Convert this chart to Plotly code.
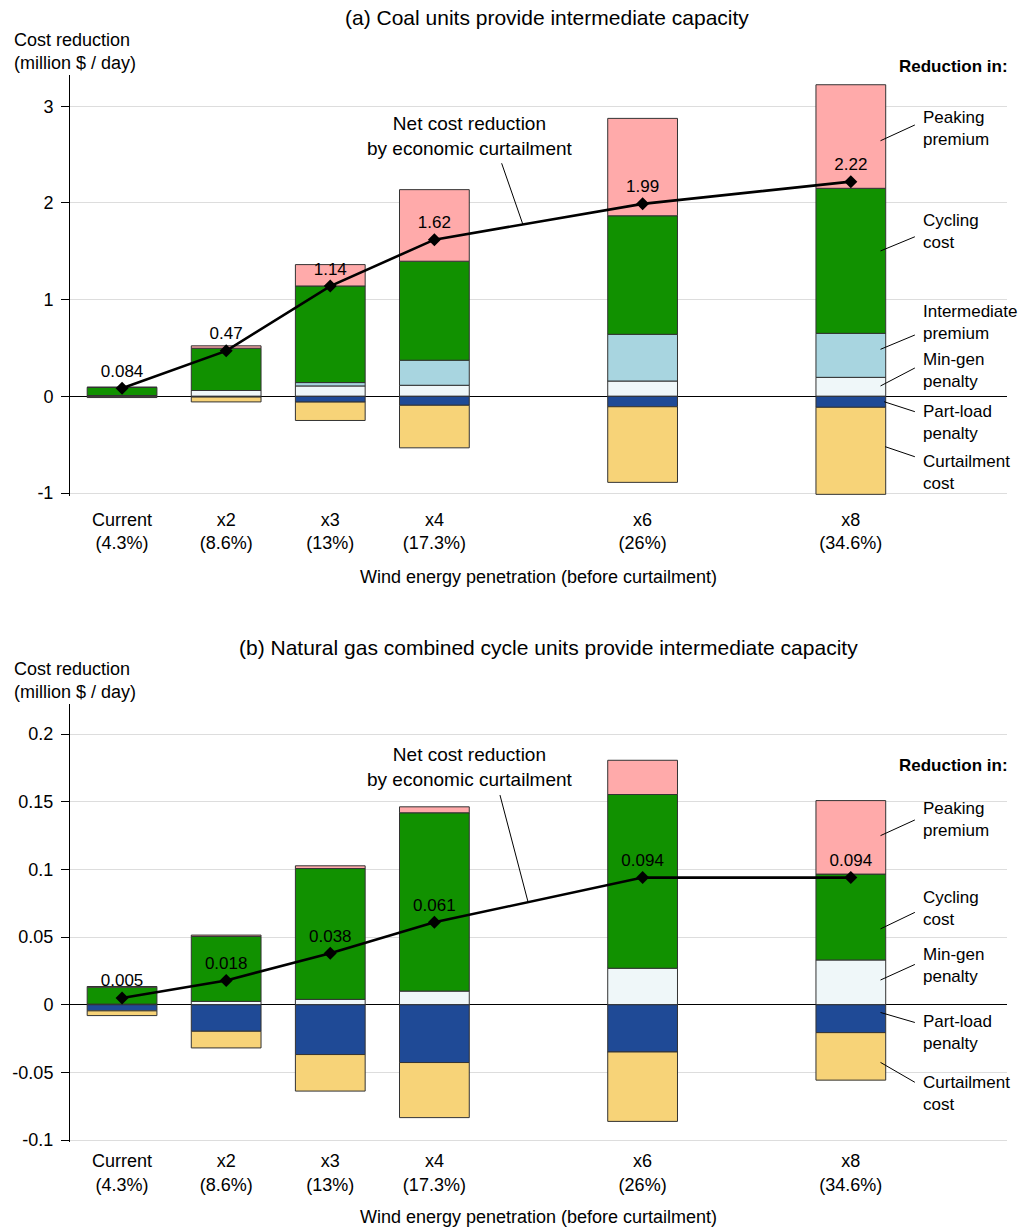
import numpy as np
import plotly.graph_objects as go

# ---------------- data ----------------
multiplier = [1, 2, 3, 4, 6, 8]
tick_labels = ["Current<br>(4.3%)", "x2<br>(8.6%)", "x3<br>(13%)", "x4<br>(17.3%)", "x6<br>(26%)", "x8<br>(34.6%)"]

# (a) coal units provide intermediate capacity  (million $ / day)
peaking_a = [0.0, 0.025, 0.221, 0.74, 1.007, 1.071]
cycling_a = [0.085, 0.437, 0.999, 1.024, 1.226, 1.50]
intermediate_a = [0.0, 0.0, 0.035, 0.259, 0.483, 0.455]
mingen_a = [0.008, 0.06, 0.107, 0.114, 0.158, 0.196]
partload_a = [-0.005, -0.008, -0.06, -0.093, -0.108, -0.114]
curtail_a = [-0.008, -0.05, -0.19, -0.44, -0.782, -0.90]
net_a = [0.084, 0.47, 1.14, 1.62, 1.99, 2.22]

# (b) natural gas combined cycle units provide intermediate capacity
peaking_b = [0.0005, 0.001, 0.002, 0.0044, 0.0253, 0.0543]
cycling_b = [0.0125, 0.048, 0.0967, 0.1318, 0.1284, 0.0635]
mingen_b = [0.0005, 0.0025, 0.004, 0.0101, 0.027, 0.0331]
partload_b = [-0.0045, -0.0196, -0.0368, -0.0427, -0.0349, -0.0206]
curtail_b = [-0.0035, -0.0123, -0.027, -0.0407, -0.0513, -0.0351]
net_b = [0.005, 0.018, 0.038, 0.061, 0.094, 0.094]

yticks_a = [-1, 0, 1, 2, 3]
yticks_b = [-0.1, -0.05, 0, 0.05, 0.1, 0.15, 0.2]

# ---------------- styles ----------------
FONT = "Liberation Sans, Arial, Helvetica, sans-serif"
C_PEAK = "#FFAAAA"
C_CYC = "#119100"
C_INT = "#A8D5E0"
C_MIN = "#EFF7F9"
C_PART = "#1F4A96"
C_CURT = "#F7D378"
BAR_W = 0.67

fig = go.Figure()


def add_bars(series, xa, ya):
    for name, vals, col in series:
        fig.add_trace(go.Bar(
            x=multiplier, y=vals, name=name, width=BAR_W,
            marker=dict(color=col, line=dict(color="#333333", width=1)),
            xaxis=xa, yaxis=ya, hoverinfo="name+y"))


# order: positives stack min-gen -> intermediate -> cycling -> peaking ; negatives part-load -> curtailment
add_bars([("Min-gen penalty", mingen_a, C_MIN),
          ("Part-load penalty", partload_a, C_PART),
          ("Intermediate premium", intermediate_a, C_INT),
          ("Cycling cost", cycling_a, C_CYC),
          ("Curtailment cost", curtail_a, C_CURT),
          ("Peaking premium", peaking_a, C_PEAK)], "x", "y")
add_bars([("Min-gen penalty", mingen_b, C_MIN),
          ("Part-load penalty", partload_b, C_PART),
          ("Cycling cost", cycling_b, C_CYC),
          ("Curtailment cost", curtail_b, C_CURT),
          ("Peaking premium", peaking_b, C_PEAK)], "x2", "y2")

for net, xa, ya in [(net_a, "x", "y"), (net_b, "x2", "y2")]:
    fig.add_trace(go.Scatter(
        x=multiplier, y=net, mode="lines+markers+text",
        text=[str(v) for v in net], textposition="top center",
        textfont=dict(size=17, color="black", family=FONT),
        line=dict(color="black", width=2.6),
        marker=dict(symbol="diamond", size=10, color="black"),
        xaxis=xa, yaxis=ya, name="Net cost reduction", cliponaxis=False))

H = 1231.0
dom_a = [1 - 495.9 / H, 1 - 75.26 / H]
dom_b = [1 - 1142.1 / H, 1 - 704.4 / H]


def xaxis_cfg(label_standoff, title_standoff):
    return dict(range=[0.5, 9.5], tickvals=multiplier, ticktext=tick_labels,
                showgrid=False, zeroline=False, showline=False, ticks="", automargin=False,
                tickfont=dict(size=18, color="black", family=FONT),
                ticklabelstandoff=label_standoff,
                title=dict(text="Wind energy penetration (before curtailment)",
                           font=dict(size=18, color="black", family=FONT), standoff=title_standoff))


ycommon = dict(showgrid=True, gridcolor="#DDDDDD", gridwidth=1, automargin=False,
               zeroline=True, zerolinecolor="black", zerolinewidth=1,
               showline=True, linecolor="black", linewidth=1,
               ticks="outside", ticklen=8, tickcolor="black",
               tickfont=dict(size=18, color="black", family=FONT), ticklabelstandoff=4)

fig.update_layout(
    width=1018, height=1231,
    margin=dict(l=70, r=11, t=0, b=0, autoexpand=False),
    plot_bgcolor="white", paper_bgcolor="white",
    showlegend=False, barmode="relative",
    font=dict(family=FONT, color="black"),
    xaxis=dict(domain=[0, 1], anchor="y", **xaxis_cfg(11, 18)),
    yaxis=dict(domain=dom_a, anchor="x", range=[-1.03, 3.32], tickvals=yticks_a,
               ticktext=[f"{v:g}" for v in yticks_a], **ycommon),
    xaxis2=dict(domain=[0, 1], anchor="y2", **xaxis_cfg(6, 16)),
    yaxis2=dict(domain=dom_b, anchor="x2", range=[-0.1015, 0.222], tickvals=yticks_b,
                ticktext=[f"{v:g}" for v in yticks_b], **ycommon),
)


def px_x(p):
    return (p - 70) / 937.0


def px_y(p):
    return 1 - p / H


ann = []
shapes = []
# titles
ann.append(dict(text="(a) Coal units provide intermediate capacity", xref="paper", yref="paper",
                x=px_x(547), y=px_y(18), xanchor="center", yanchor="middle", showarrow=False,
                font=dict(size=21)))
ann.append(dict(text="(b) Natural gas combined cycle units provide intermediate capacity", xref="paper",
                yref="paper", x=px_x(548), y=px_y(647), xanchor="center", yanchor="middle",
                showarrow=False, font=dict(size=21)))
for yc in (51.5, 680):
    ann.append(dict(text="Cost reduction<br>(million $ / day)", xref="paper", yref="paper",
                    x=px_x(12), y=px_y(yc), xanchor="left", yanchor="middle", align="left",
                    showarrow=False, font=dict(size=18)))
for yc in (67, 765):
    ann.append(dict(text="<b>Reduction in:</b>", xref="paper", yref="paper",
                    x=px_x(1010), y=px_y(yc), xanchor="right", yanchor="middle",
                    showarrow=False, font=dict(size=17)))

# net cost reduction callouts
for xr, yr, ty, tail, hx, net in [("x", "y", 2.687, (4.646, 2.41), 4.85, net_a),
                                  ("x2", "y2", 0.176, (4.63, 0.155), 4.90, net_b)]:
    ann.append(dict(text="Net cost reduction<br>by economic curtailment", xref=xr, yref=yr,
                    x=4.342, y=ty, xanchor="center", yanchor="middle", showarrow=False,
                    font=dict(size=19)))
    shapes.append(dict(type="line", xref=xr, yref=yr, x0=tail[0], y0=tail[1],
                       x1=hx, y1=float(np.interp(hx, multiplier, net)),
                       line=dict(color="black", width=1)))

# right-hand series labels: (text, text_y, leader_x0, leader_y0, leader_y1)
labels_a = [("Peaking<br>premium", 2.77, 8.285, 2.643, 2.806),
            ("Cycling<br>cost", 1.704, 8.285, 1.503, 1.650),
            ("Intermediate<br>premium", 0.763, 8.285, 0.486, 0.634),
            ("Min-gen<br>penalty", 0.262, 8.285, 0.107, 0.293),
            ("Part-load<br>penalty", -0.266, 8.32, -0.056, -0.159),
            ("Curtailment<br>cost", -0.788, 8.33, -0.521, -0.625)]
labels_b = [("Peaking<br>premium", 0.1366, 8.285, 0.125, 0.1366),
            ("Cycling<br>cost", 0.0714, 8.285, 0.0561, 0.0683),
            ("Min-gen<br>penalty", 0.0287, 8.285, 0.0183, 0.0298),
            ("Part-load<br>penalty", -0.0203, 8.285, -0.0057, -0.0131),
            ("Curtailment<br>cost", -0.0659, 8.285, -0.0426, -0.0573)]
for labels, xr, yr in [(labels_a, "x", "y"), (labels_b, "x2", "y2")]:
    for txt, ty, lx0, ly0, ly1 in labels:
        ann.append(dict(text=txt, xref=xr, yref=yr, x=8.672, y=ty, xanchor="left",
                        yanchor="middle", align="left", showarrow=False, font=dict(size=17)))
        shapes.append(dict(type="line", xref=xr, yref=yr, x0=lx0, y0=ly0, x1=8.615, y1=ly1,
                           line=dict(color="black", width=1)))

fig.update_layout(annotations=ann, shapes=shapes)
fig.write_html("out.html", config={"displayModeBar": False},
               post_script="document.body.style.margin='0px';")
